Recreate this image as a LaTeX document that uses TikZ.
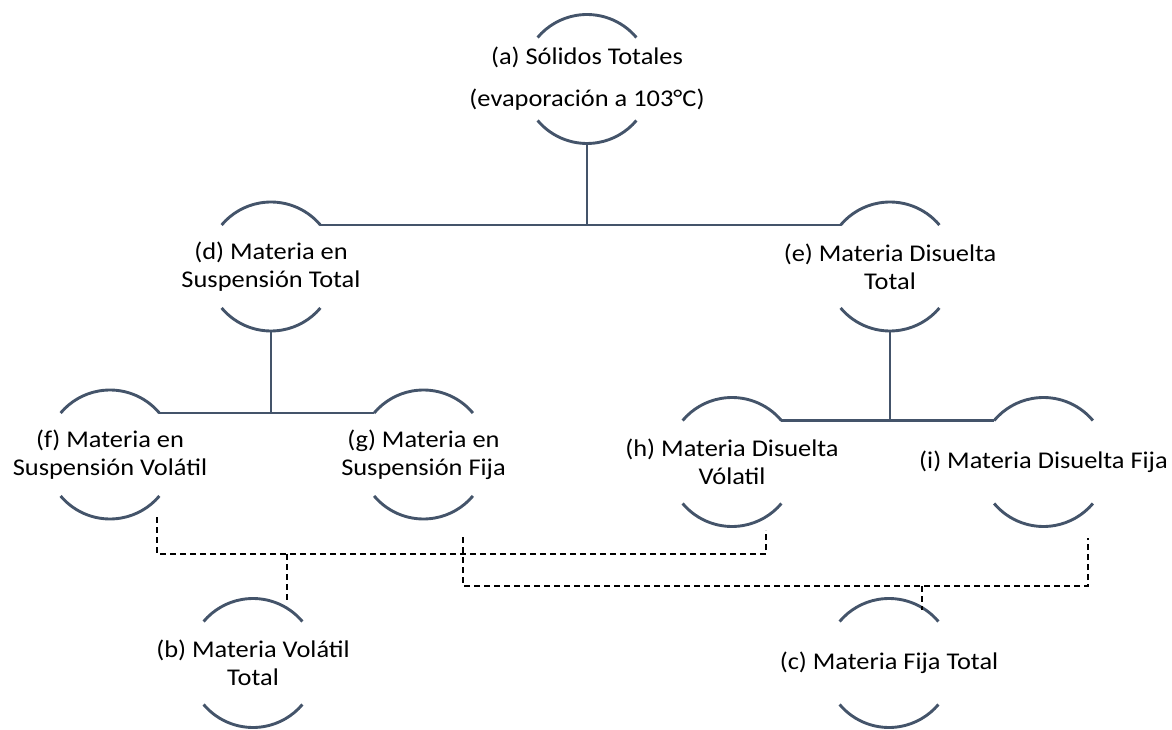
\documentclass[tikz,border=0pt]{standalone}
\usepackage{fontspec}
\setmainfont{Carlito}[FakeStretch=1.1]
\definecolor{linec}{HTML}{44546A}
\tikzset{
  lbl/.style={align=center, inner sep=0pt, font=\fontsize{24}{28}\selectfont},
  arcline/.style={draw=linec, line width=2.9pt},
  tree/.style={draw=linec, line width=2.9pt},
  dashlink/.style={draw=black, line width=1.5pt, dash pattern=on 6pt off 4pt}
}
\newcommand{\ringarcs}[1]{%
  \draw[arcline] ([shift={(40:64.5pt)}]#1.center) arc[start angle=40, end angle=140, radius=64.5pt];
  \draw[arcline] ([shift={(220:64.5pt)}]#1.center) arc[start angle=220, end angle=320, radius=64.5pt];
}
\begin{document}
\begin{tikzpicture}[x=1pt,y=1pt]
\useasboundingbox (0,0) rectangle (1172,729);
% nodes
\node[lbl, font=\fontsize{24}{42}\selectfont] (a) at (587,650) {(a) Sólidos Totales\\(evaporación a 103°C)};
\node[lbl] (d) at (271,462.5) {(d) Materia en\\Suspensión Total};
\node[lbl] (e) at (890,462.5) {(e) Materia Disuelta\\Total};
\node[lbl] (f) at (110,274.5) {(f) Materia en\\Suspensión Volátil};
\node[lbl] (g) at (423.5,274.5) {(g) Materia en\\Suspensión Fija};
\node[lbl] (h) at (732,267) {(h) Materia Disuelta\\Vólatil};
\node[lbl] (i) at (1043.5,267) {(i) Materia Disuelta Fija};
\node[lbl] (b) at (253,66) {(b) Materia Volátil\\Total};
\node[lbl] (c) at (889,66) {(c) Materia Fija Total};
\foreach \n in {a,d,e,f,g,h,i,b,c}{\ringarcs{\n}}
% solid tree connectors
\coordinate (abot) at ([yshift=-64.5pt]a.center);
\coordinate (dTR) at ([shift={(40:64.5pt)}]d.center);
\coordinate (eTL) at ([shift={(140:64.5pt)}]e.center);
\draw[tree] (dTR) -- (eTL);
\draw[tree] (abot) -- (abot |- dTR);
\coordinate (dbot) at ([yshift=-64.5pt]d.center);
\coordinate (fTR) at ([shift={(40:64.5pt)}]f.center);
\coordinate (gTL) at ([shift={(140:64.5pt)}]g.center);
\draw[tree] (fTR) -- (gTL);
\draw[tree] (dbot) -- (dbot |- fTR);
\coordinate (ebot) at ([yshift=-64.5pt]e.center);
\coordinate (hTR) at ([shift={(40:64.5pt)}]h.center);
\coordinate (iTL) at ([shift={(140:64.5pt)}]i.center);
\draw[tree] (hTR) -- (iTL);
\draw[tree] (ebot) -- (ebot |- hTR);
% dashed connectors
\coordinate (fD) at (157,212);
\coordinate (hD) at (766,199);
\coordinate (bD) at (287,127);
\coordinate (gD) at (463,192);
\coordinate (iD) at (1088,191);
\coordinate (cD) at (922,119);
\draw[dashlink] (fD) -- (fD |- 0,175) -- (hD |- 0,175) -- (hD);
\draw[dashlink] (bD |- 0,175) -- (bD);
\draw[dashlink] (gD) -- (gD |- 0,143) -- (iD |- 0,143) -- (iD);
\draw[dashlink] (cD |- 0,143) -- (cD);
\end{tikzpicture}
\end{document}
